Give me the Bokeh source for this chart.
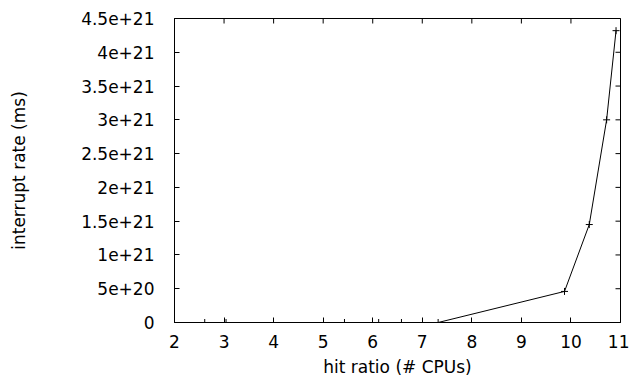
from bokeh.plotting import figure
from bokeh.models import FixedTicker, CustomJSTickFormatter, Range1d
from bokeh.embed import file_html
from bokeh.resources import INLINE

# data
hit_ratio = [2.61, 3.04, 5.43, 6.12, 6.58, 7.32, 9.87, 10.37, 10.72, 10.91]
interrupt_rate = [0, 0, 0, 0, 0, 0, 4.6e20, 1.45e21, 3.0e21, 4.32e21]

x_ticks = [2, 3, 4, 5, 6, 7, 8, 9, 10, 11]
y_ticks = [0, 5e20, 1e21, 1.5e21, 2e21, 2.5e21, 3e21, 3.5e21, 4e21, 4.5e21]

FONT = "DejaVu Sans"

p = figure(output_backend="svg", toolbar_location=None,
           frame_width=446, frame_height=304,
           min_border_left=174, min_border_top=18, min_border_right=9, min_border_bottom=59,
           x_range=Range1d(x_ticks[0], x_ticks[-1]), y_range=Range1d(y_ticks[0], y_ticks[-1]),
           x_axis_label="hit ratio (# CPUs)", y_axis_label="interrupt rate (ms)")
p.grid.visible = False
p.outline_line_color = "black"
p.outline_line_width = 1
p.background_fill_color = "white"
p.border_fill_color = "white"

fmt = CustomJSTickFormatter(code="""
if (tick == 0) return "0";
return tick.toExponential().replace(/\\.?0+e/, "e");
""")

for ax in p.xaxis:
    ax.ticker = FixedTicker(ticks=x_ticks)
for ax in p.yaxis:
    ax.ticker = FixedTicker(ticks=y_ticks)
    ax.formatter = fmt

for ax in list(p.xaxis) + list(p.yaxis):
    ax.axis_line_color = "black"
    ax.major_tick_in = 5
    ax.major_tick_out = 0
    ax.minor_tick_line_color = None
    ax.major_label_text_font = FONT
    ax.major_label_text_font_size = "17px"
    ax.major_label_text_color = "black"
    ax.axis_label_text_font = FONT
    ax.axis_label_text_font_size = "17px"
    ax.axis_label_text_font_style = "normal"
    ax.axis_label_text_color = "black"

p.xaxis.major_label_standoff = 12
p.yaxis.major_label_standoff = 20
p.xaxis.axis_label_standoff = 6
p.yaxis.axis_label_standoff = 49

# inward ticks on the top and right edges of the frame
p.scatter(x_ticks, [y_ticks[-1]] * len(x_ticks), marker="dash", angle=1.5708,
          size=10, line_color="black", line_width=1)
p.scatter([x_ticks[-1]] * len(y_ticks), y_ticks, marker="dash",
          size=10, line_color="black", line_width=1)

p.line(hit_ratio, interrupt_rate, line_color="black", line_width=1)
p.scatter(hit_ratio, interrupt_rate, marker="cross", size=7, line_color="black", line_width=1)

open("out.html", "w").write(file_html(p, INLINE))
